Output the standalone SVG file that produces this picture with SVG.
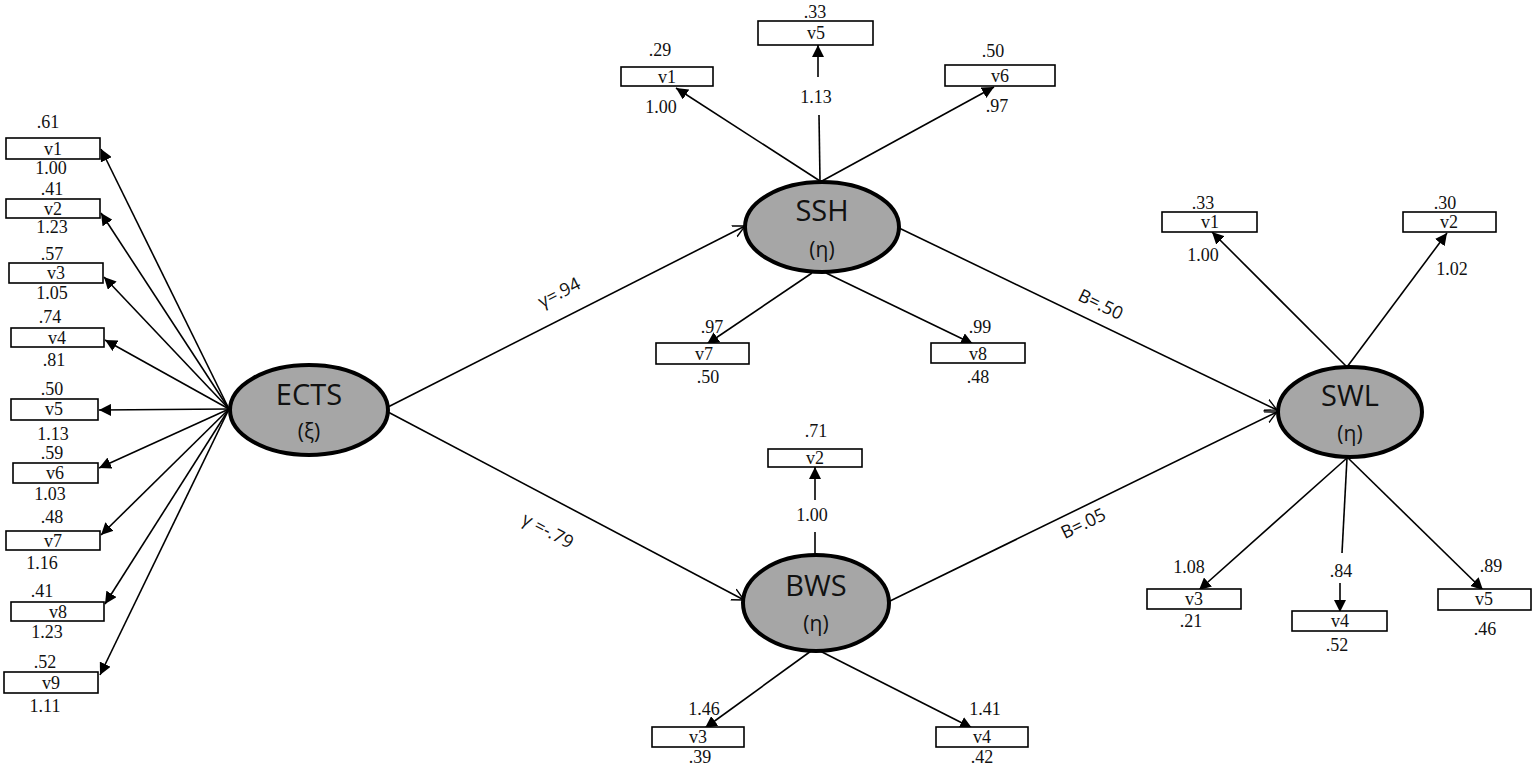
<svg xmlns="http://www.w3.org/2000/svg" width="1535" height="767" viewBox="0 0 1535 767">
<style>
.bg{fill:#fff}
.box{fill:#fff;stroke:#000;stroke-width:1.6}
.lat{fill:#a6a6a6;stroke:#000;stroke-width:4}
.ln{stroke:#000;stroke-width:1.6;fill:none}
.ind{font-family:"Liberation Serif",serif;font-size:18px;fill:#111;text-anchor:middle}
.nm{font-family:"Open Sans","Noto Sans",sans-serif;font-size:29px;fill:#111;text-anchor:middle}
.sub{font-family:"Open Sans","Noto Sans",sans-serif;font-size:21px;fill:#111;text-anchor:middle}
.pl{font-family:"Open Sans","Noto Sans",sans-serif;font-size:18px;fill:#111;text-anchor:middle}
</style>
<defs>
<marker id="tri" markerUnits="userSpaceOnUse" markerWidth="14" markerHeight="12" refX="12" refY="6" orient="auto">
<path d="M0,0 L12,6 L0,12 Z" fill="#000"/>
</marker>
<marker id="open" markerUnits="userSpaceOnUse" markerWidth="14" markerHeight="14" refX="12" refY="7" orient="auto">
<path d="M0,1 L12,7 L0,13" fill="none" stroke="#000" stroke-width="1.4"/>
</marker>
</defs>
<rect class="bg" x="0" y="0" width="1535" height="767"/>

<g id="connectors">
<line class="ln" x1="229" y1="409" x2="101" y2="149" marker-end="url(#tri)"/>
<line class="ln" x1="229" y1="409" x2="101" y2="213" marker-end="url(#tri)"/>
<line class="ln" x1="229" y1="409" x2="104" y2="277" marker-end="url(#tri)"/>
<line class="ln" x1="229" y1="409" x2="105" y2="340" marker-end="url(#tri)"/>
<line class="ln" x1="229" y1="409" x2="99" y2="410" marker-end="url(#tri)"/>
<line class="ln" x1="229" y1="409" x2="99" y2="468" marker-end="url(#tri)"/>
<line class="ln" x1="229" y1="409" x2="101" y2="535" marker-end="url(#tri)"/>
<line class="ln" x1="229" y1="409" x2="105" y2="604" marker-end="url(#tri)"/>
<line class="ln" x1="229" y1="409" x2="100" y2="675" marker-end="url(#tri)"/>
<line class="ln" x1="388" y1="407" x2="745" y2="226" marker-end="url(#open)"/>
<line class="ln" x1="388" y1="412" x2="744" y2="600" marker-end="url(#open)"/>
<line class="ln" x1="899" y1="228" x2="1277" y2="410" marker-end="url(#open)"/>
<line class="ln" x1="888" y1="602" x2="1277" y2="412" marker-end="url(#open)"/>
<line class="ln" x1="820" y1="181" x2="676" y2="88" marker-end="url(#tri)"/>
<line class="ln" x1="820" y1="181" x2="819" y2="115"/>
<line class="ln" x1="818" y1="77" x2="818" y2="45" marker-end="url(#tri)"/>
<line class="ln" x1="822" y1="181" x2="994" y2="87" marker-end="url(#tri)"/>
<line class="ln" x1="812" y1="273" x2="707" y2="344" marker-end="url(#tri)"/>
<line class="ln" x1="826" y1="273" x2="973" y2="344" marker-end="url(#tri)"/>
<line class="ln" x1="815" y1="555" x2="815" y2="532"/>
<line class="ln" x1="815" y1="500" x2="815" y2="467" marker-end="url(#tri)"/>
<line class="ln" x1="811" y1="651" x2="705" y2="728" marker-end="url(#tri)"/>
<line class="ln" x1="820" y1="651" x2="972" y2="728" marker-end="url(#tri)"/>
<line class="ln" x1="1347" y1="367" x2="1212" y2="232" marker-end="url(#tri)"/>
<line class="ln" x1="1347" y1="367" x2="1447" y2="233" marker-end="url(#tri)"/>
<line class="ln" x1="1347" y1="458" x2="1199" y2="590" marker-end="url(#tri)"/>
<line class="ln" x1="1347" y1="458" x2="1342" y2="553"/>
<line class="ln" x1="1340" y1="583" x2="1340" y2="612" marker-end="url(#tri)"/>
<line class="ln" x1="1348" y1="458" x2="1483" y2="590" marker-end="url(#tri)"/>
<text class="pl" transform="translate(562,298) rotate(-27)">γ=.94</text>
<text class="pl" transform="translate(545,536) rotate(28)">γ =-.79</text>
<text class="pl" transform="translate(1098,310) rotate(26)">B=.50</text>
<text class="pl" transform="translate(1086,529) rotate(-26)">B=.05</text>
</g>

<g id="ECTS">
<ellipse class="lat" cx="309" cy="410" rx="79" ry="45"/>
<text class="nm" x="309" y="405">ECTS</text>
<text class="sub" x="309" y="439">(ξ)</text>
</g>
<g id="SSH">
<ellipse class="lat" cx="822" cy="227" rx="77" ry="45"/>
<text class="nm" x="822" y="221">SSH</text>
<text class="sub" x="822" y="257">(η)</text>
</g>
<g id="BWS">
<ellipse class="lat" cx="816" cy="603" rx="73" ry="48"/>
<text class="nm" x="816" y="596">BWS</text>
<text class="sub" x="816" y="631">(η)</text>
</g>
<g id="SWL">
<ellipse class="lat" cx="1350" cy="412" rx="72" ry="45"/>
<text class="nm" x="1350" y="406">SWL</text>
<text class="sub" x="1350" y="441">(η)</text>
</g>

<g id="ECTS-v1"><rect class="box" x="6" y="138" width="94" height="21"/><text class="ind" x="53" y="155">v1</text><text class="ind" x="48" y="128">.61</text><text class="ind" x="51" y="174">1.00</text></g>
<g id="ECTS-v2"><rect class="box" x="6" y="199" width="94" height="19"/><text class="ind" x="53" y="215">v2</text><text class="ind" x="52" y="195">.41</text><text class="ind" x="52" y="233">1.23</text></g>
<g id="ECTS-v3"><rect class="box" x="9" y="263" width="94" height="20"/><text class="ind" x="56" y="279">v3</text><text class="ind" x="52" y="260">.57</text><text class="ind" x="52" y="299">1.05</text></g>
<g id="ECTS-v4"><rect class="box" x="11" y="328" width="93" height="19"/><text class="ind" x="57" y="344">v4</text><text class="ind" x="50" y="323">.74</text><text class="ind" x="54" y="366">.81</text></g>
<g id="ECTS-v5"><rect class="box" x="11" y="399" width="87" height="21"/><text class="ind" x="54" y="415">v5</text><text class="ind" x="52" y="395">.50</text><text class="ind" x="53" y="440">1.13</text></g>
<g id="ECTS-v6"><rect class="box" x="13" y="463" width="85" height="20"/><text class="ind" x="55" y="479">v6</text><text class="ind" x="52" y="459">.59</text><text class="ind" x="50" y="500">1.03</text></g>
<g id="ECTS-v7"><rect class="box" x="6" y="531" width="94" height="19"/><text class="ind" x="53" y="547">v7</text><text class="ind" x="52" y="523">.48</text><text class="ind" x="42" y="569">1.16</text></g>
<g id="ECTS-v8"><rect class="box" x="11" y="602" width="93" height="19"/><text class="ind" x="58" y="618">v8</text><text class="ind" x="42" y="597">.41</text><text class="ind" x="47" y="638">1.23</text></g>
<g id="ECTS-v9"><rect class="box" x="4" y="672" width="94" height="21"/><text class="ind" x="51" y="689">v9</text><text class="ind" x="45" y="668">.52</text><text class="ind" x="45" y="712">1.11</text></g>

<g id="SSH-v1"><rect class="box" x="621" y="67" width="92" height="19"/><text class="ind" x="667" y="83">v1</text><text class="ind" x="660" y="56">.29</text><text class="ind" x="661" y="113">1.00</text></g>
<g id="SSH-v5"><rect class="box" x="758" y="21" width="115" height="24"/><text class="ind" x="816" y="39">v5</text><text class="ind" x="815" y="18">.33</text><text class="ind" x="816" y="103">1.13</text></g>
<g id="SSH-v6"><rect class="box" x="945" y="65" width="110" height="21"/><text class="ind" x="1000" y="82">v6</text><text class="ind" x="993" y="57">.50</text><text class="ind" x="997" y="112">.97</text></g>
<g id="SSH-v7"><rect class="box" x="656" y="343" width="93" height="21"/><text class="ind" x="704" y="360">v7</text><text class="ind" x="712" y="333">.97</text><text class="ind" x="708" y="383">.50</text></g>
<g id="SSH-v8"><rect class="box" x="931" y="343" width="94" height="20"/><text class="ind" x="978" y="360">v8</text><text class="ind" x="980" y="333">.99</text><text class="ind" x="978" y="383">.48</text></g>

<g id="BWS-v2"><rect class="box" x="768" y="449" width="94" height="18"/><text class="ind" x="815" y="464">v2</text><text class="ind" x="816" y="437">.71</text><text class="ind" x="812" y="521">1.00</text></g>
<g id="BWS-v3"><rect class="box" x="652" y="727" width="92" height="20"/><text class="ind" x="698" y="743">v3</text><text class="ind" x="704" y="715">1.46</text><text class="ind" x="700" y="763">.39</text></g>
<g id="BWS-v4"><rect class="box" x="936" y="727" width="92" height="20"/><text class="ind" x="982" y="743">v4</text><text class="ind" x="985" y="715">1.41</text><text class="ind" x="982" y="763">.42</text></g>

<g id="SWL-v1"><rect class="box" x="1162" y="212" width="95" height="20"/><text class="ind" x="1210" y="228">v1</text><text class="ind" x="1203" y="209">.33</text><text class="ind" x="1203" y="261">1.00</text></g>
<g id="SWL-v2"><rect class="box" x="1403" y="212" width="93" height="20"/><text class="ind" x="1449" y="228">v2</text><text class="ind" x="1445" y="209">.30</text><text class="ind" x="1452" y="275">1.02</text></g>
<g id="SWL-v3"><rect class="box" x="1147" y="589" width="94" height="20"/><text class="ind" x="1194" y="605">v3</text><text class="ind" x="1189" y="573">1.08</text><text class="ind" x="1191" y="627">.21</text></g>
<g id="SWL-v4"><rect class="box" x="1292" y="611" width="95" height="20"/><text class="ind" x="1340" y="627">v4</text><text class="ind" x="1341" y="577">.84</text><text class="ind" x="1337" y="651">.52</text></g>
<g id="SWL-v5"><rect class="box" x="1438" y="589" width="93" height="21"/><text class="ind" x="1484" y="605">v5</text><text class="ind" x="1491" y="572">.89</text><text class="ind" x="1485" y="635">.46</text></g>
</svg>
